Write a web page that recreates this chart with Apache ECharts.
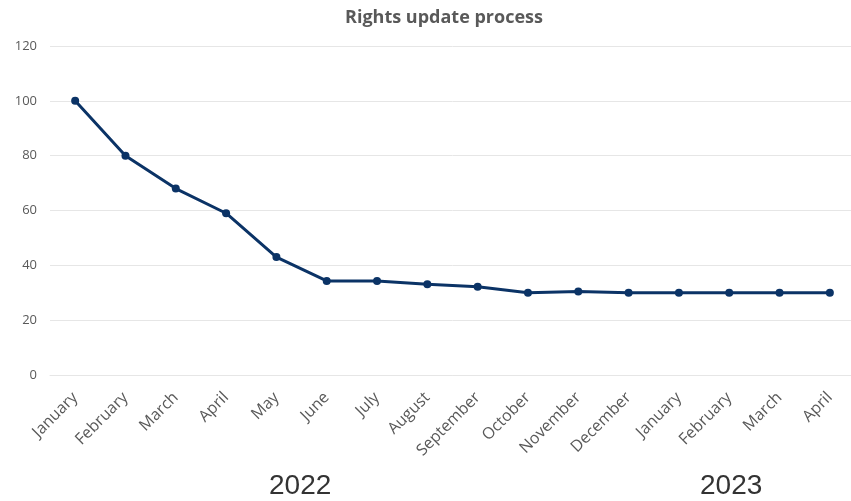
<!DOCTYPE html>
<html>
<head>
<meta charset="utf-8">
<script src="https://cdn.jsdelivr.net/npm/echarts@6/dist/echarts.min.js"></script>
<style>html,body{margin:0;padding:0;background:#fff;overflow:hidden}#c{width:860px;height:501px}</style>
</head>
<body>
<div id="c"></div>
<script>
var categories = ['January','February','March','April','May','June','July','August','September','October','November','December','January','February','March','April'];
var values = [100, 80, 68, 59, 43, 34.3, 34.3, 33.1, 32.2, 30, 30.5, 30, 30, 30, 30, 30];
var yearLabels = ['2022', '2023'];
var yTicks = [0, 20, 40, 60, 80, 100, 120];

var chart = echarts.init(document.getElementById('c'));
chart.setOption({
  backgroundColor: '#ffffff',
  animation: false,
  title: {
    text: 'Rights update process',
    left: 439, textAlign: 'center', top: 4,
    textStyle: { fontFamily: 'Open Sans', fontWeight: 'bold', fontSize: 18, color: '#595959' }
  },
  grid: { left: 50, top: 46, width: 805, height: 329, containLabel: false },
  xAxis: {
    type: 'category', data: categories, boundaryGap: true,
    axisLine: { show: true, lineStyle: { color: '#e6e6e6' } },
    axisTick: { show: false },
    axisLabel: { interval: 0, rotate: 45, margin: 20, fontFamily: 'Open Sans', fontSize: 16, color: '#595959' }
  },
  yAxis: {
    type: 'value', min: yTicks[0], max: yTicks[yTicks.length - 1], interval: 20,
    axisLine: { show: false }, axisTick: { show: false },
    axisLabel: { margin: 13, fontFamily: 'Open Sans', fontSize: 13, color: '#595959' },
    splitLine: { lineStyle: { color: '#e6e6e6', width: 1 } }
  },
  graphic: [
    { type: 'text', left: 269, top: 472, style: { text: yearLabels[0], font: '28px "Liberation Sans"', fill: '#333333' } },
    { type: 'text', left: 700, top: 472, style: { text: yearLabels[1], font: '28px "Liberation Sans"', fill: '#333333' } }
  ],
  series: [{
    type: 'line', data: values,
    symbol: 'circle', symbolSize: 8,
    lineStyle: { color: '#0b3366', width: 3 },
    itemStyle: { color: '#0b3366' }
  }]
});
</script>
</body>
</html>
